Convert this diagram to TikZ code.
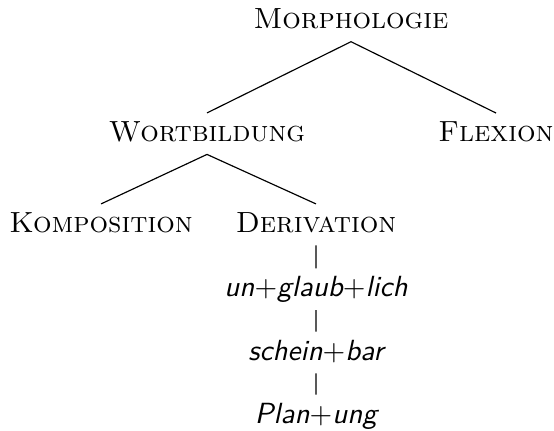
\documentclass[tikz,border=0pt]{standalone}
\usetikzlibrary{positioning}

\begin{document}
\begin{tikzpicture}[x=0.343pt,y=-0.343pt,
                cat node/.style={anchor=base,inner sep=2.6pt,text depth=1.8pt,font=\scshape},
                word node/.style={anchor=base,inner sep=2.6pt,text depth=1.8pt,font=\sffamily\itshape}]

  \useasboundingbox (0,0) rectangle (554,430);

  \node[cat node] (morph) at (351,28.3) {Morphologie};
  \node[cat node] (wort) at (207,141) {Wortbildung};
  \node[cat node] (flex) at (496,141) {Flexion};
  \node[cat node] (komp) at (101,232) {Komposition};
  \node[cat node] (deriv) at (316,232) {Derivation};
  \node[word node] (ex1) at (316,296.7) {un$+$glaub$+$lich};
  \node[word node] (ex2) at (316,360) {schein$+$bar};
  \node[word node] (ex3) at (316,423) {Plan$+$ung};

  \draw (morph.south) -- (wort.north)
        (morph.south) -- (flex.north)
        (wort.south) -- (komp.north)
        (wort.south) -- (deriv.north)
        (deriv.south) -- (ex1.north)
        (ex1.south) -- (ex2.north)
        (ex2.south) -- (ex3.north);
\end{tikzpicture}
\end{document}
